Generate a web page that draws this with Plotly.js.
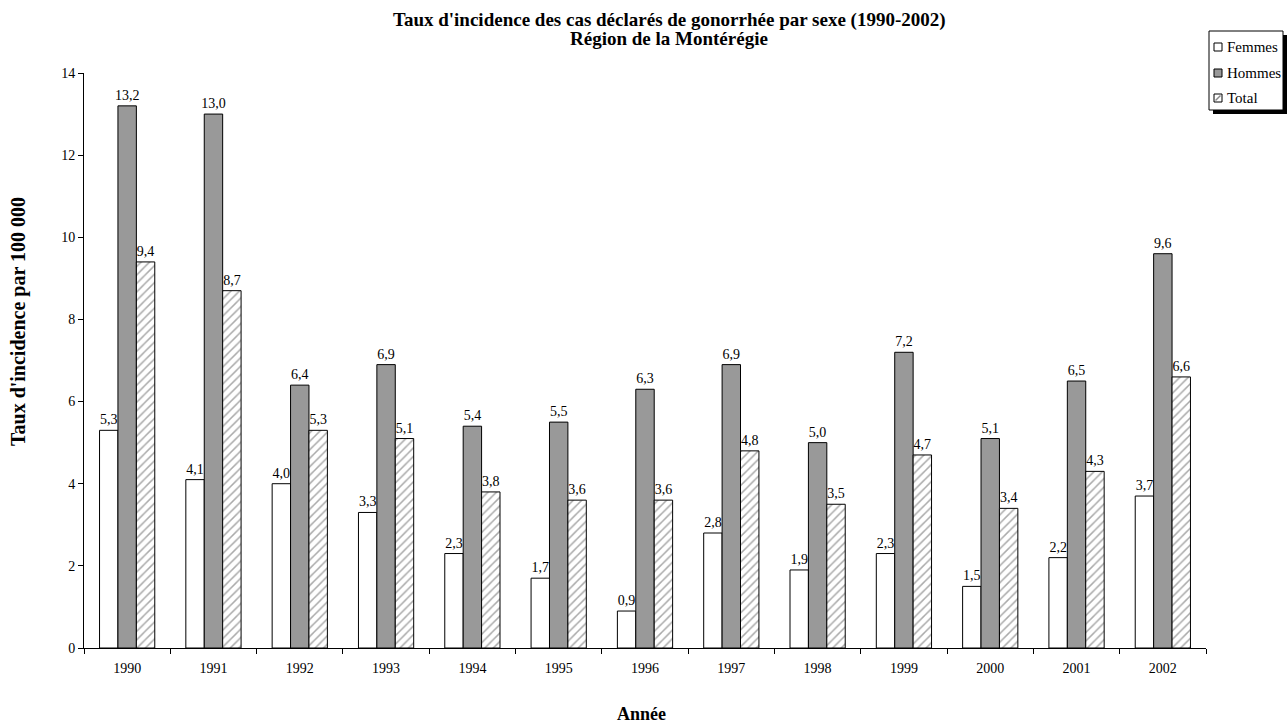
<!DOCTYPE html>
<html>
<head>
<meta charset="utf-8">
<script src="https://cdn.plot.ly/plotly-3.0.1.min.js"></script>
<style>html,body{margin:0;padding:0;background:#fff;}#chart{width:1287px;height:725px;}</style>
</head>
<body>
<div id="chart"></div>
<script>
const years = ["1990","1991","1992","1993","1994","1995","1996","1997","1998","1999","2000","2001","2002"];
const femmes = [5.3, 4.1, 4.0, 3.3, 2.3, 1.7, 0.9, 2.8, 1.9, 2.3, 1.5, 2.2, 3.7];
const hommes = [13.2, 13.0, 6.4, 6.9, 5.4, 5.5, 6.3, 6.9, 5.0, 7.2, 5.1, 6.5, 9.6];
const total = [9.4, 8.7, 5.3, 5.1, 3.8, 3.6, 3.6, 4.8, 3.5, 4.7, 3.4, 4.3, 6.6];
const seriesNames = ["Femmes", "Hommes", "Total"];
const titleLines = ["Taux d'incidence des cas déclarés de gonorrhée par sexe (1990-2002)", "Région de la Montérégie"];
const xTitle = "Année";
const yTitle = "Taux d'incidence par 100 000";

const fmt = v => v.toFixed(1).replace('.', ',');
const FONT = "Liberation Serif, Times New Roman, serif";
const GRAY = '#999999';
const HATCH = '#aaaaaa';

const base = {
  type: 'bar', x: years, textposition: 'outside', cliponaxis: false, constraintext: 'none',
  textfont: {family: FONT, size: 14, color: '#000'}, showlegend: false
};

const traces = [
  Object.assign({}, base, {name: seriesNames[0], y: femmes, text: femmes.map(fmt),
    marker: {color: '#ffffff', line: {color: '#000', width: 1}}}),
  Object.assign({}, base, {name: seriesNames[1], y: hommes, text: hommes.map(fmt),
    marker: {color: GRAY, line: {color: '#000', width: 1}}}),
  Object.assign({}, base, {name: seriesNames[2], y: total, text: total.map(fmt),
    marker: {color: '#ffffff', line: {color: '#000', width: 1},
      pattern: {shape: '/', fgcolor: HATCH, bgcolor: '#ffffff', size: 6, solidity: 0.25}}})
];

const L = 84, R = 81, T = 73, B = 77;
const W = 1287 - L - R, H = 725 - T - B;
const px = x => (x - L) / W;
const py = y => (725 - B - y) / H;

// manual legend (box with shadow)
const legTop = 31, legBot = 110, legL = 1209, legR = 1283;
const itemY = [47, 73, 98];
const shapes = [
  {type: 'rect', xref: 'paper', yref: 'paper', x0: px(legL + 4), x1: px(legR + 4), y0: py(legBot + 4), y1: py(legTop + 4),
    fillcolor: '#000', line: {width: 0}},
  {type: 'rect', xref: 'paper', yref: 'paper', x0: px(legL), x1: px(legR), y0: py(legBot), y1: py(legTop),
    fillcolor: '#fff', line: {color: '#000', width: 1}}
];
const symFill = ['#ffffff', GRAY, '#ffffff'];
const annotations = [];
seriesNames.forEach((n, i) => {
  const cy = itemY[i];
  shapes.push({type: 'rect', xref: 'paper', yref: 'paper', x0: px(1214), x1: px(1222), y0: py(cy + 4), y1: py(cy - 4),
    fillcolor: symFill[i], line: {color: '#000', width: 1}});
  if (i === 2) {
    shapes.push({type: 'line', xref: 'paper', yref: 'paper', x0: px(1215.5), x1: px(1220.5), y0: py(cy + 2.5), y1: py(cy - 2.5),
      line: {color: '#888', width: 1.5}});
  }
  annotations.push({xref: 'paper', yref: 'paper', x: px(1225), y: py(cy), xanchor: 'left', yanchor: 'middle',
    text: n, showarrow: false, font: {family: FONT, size: 15, color: '#000'}});
});

annotations.push({xref: 'paper', yref: 'paper', x: px(669), y: py(20), xanchor: 'center', yanchor: 'middle',
  text: '<b>' + titleLines[0] + '</b>', showarrow: false, font: {family: FONT, size: 19, color: '#000'}});
annotations.push({xref: 'paper', yref: 'paper', x: px(669), y: py(39), xanchor: 'center', yanchor: 'middle',
  text: '<b>' + titleLines[1] + '</b>', showarrow: false, font: {family: FONT, size: 19, color: '#000'}});
annotations.push({xref: 'paper', yref: 'paper', x: px(641), y: py(714), xanchor: 'center', yanchor: 'middle',
  text: '<b>' + xTitle + '</b>', showarrow: false, font: {family: FONT, size: 18, color: '#000'}});
annotations.push({xref: 'paper', yref: 'paper', x: px(18), y: py(322), xanchor: 'center', yanchor: 'middle', textangle: -90,
  text: '<b>' + yTitle + '</b>', showarrow: false, font: {family: FONT, size: 20, color: '#000'}});

const layout = {
  width: 1287, height: 725,
  margin: {l: L, r: R, t: T, b: B, autoexpand: false},
  paper_bgcolor: '#fff', plot_bgcolor: '#fff',
  font: {family: FONT, size: 14, color: '#000'},
  barmode: 'group', bargap: 0.36, bargroupgap: 0,
  showlegend: false,
  xaxis: {type: 'category', tickson: 'boundaries', ticks: 'outside', ticklen: 5, tickcolor: '#000',
    showline: true, linecolor: '#000', linewidth: 1, showgrid: false, zeroline: false,
    ticklabelstandoff: 7, tickfont: {family: FONT, size: 14}},
  yaxis: {range: [0, 14], dtick: 2, ticks: 'outside', ticklen: 5, tickcolor: '#000',
    showline: true, linecolor: '#000', linewidth: 1, showgrid: false, zeroline: false,
    tickfont: {family: FONT, size: 14}},
  shapes: shapes,
  annotations: annotations
};

Plotly.newPlot('chart', traces, layout, {displayModeBar: false, staticPlot: true});
</script>
</body>
</html>
